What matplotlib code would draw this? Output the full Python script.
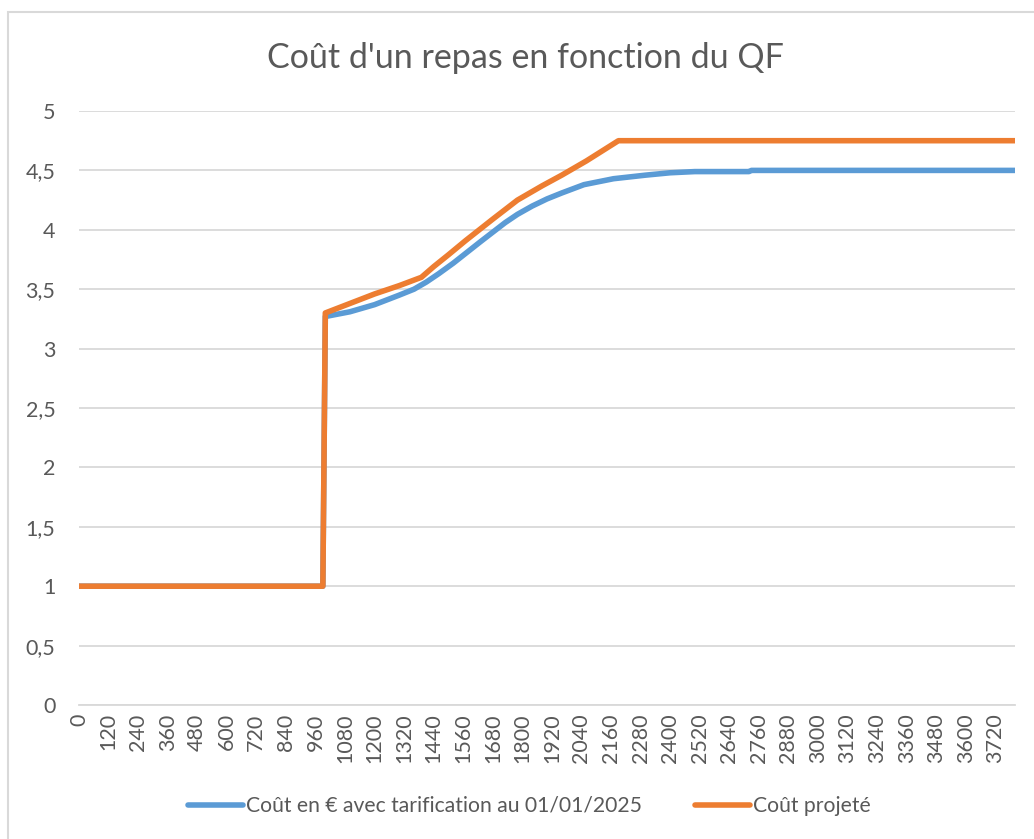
import matplotlib
matplotlib.use("Agg")
import matplotlib.pyplot as plt
from matplotlib.patches import Rectangle

plt.rcParams['font.family'] = ['Lato', 'DejaVu Sans']

# QF breakpoints
qf_actuel = [0, 990, 1000, 1100, 1200, 1300, 1360, 1410, 1460, 1520, 1575, 1630, 1680,
             1730, 1780, 1840, 1900, 1960, 2050, 2170, 2300, 2400, 2500, 2720, 2730, 3800]
cout_actuel = [1.0, 1.0, 3.27, 3.31, 3.37, 3.45, 3.50, 3.56, 3.63, 3.72, 3.81, 3.90, 3.98,
               4.06, 4.13, 4.20, 4.26, 4.31, 4.38, 4.43, 4.46, 4.48, 4.49, 4.49, 4.50, 4.50]

qf_projete = [0, 990, 1000, 1100, 1200, 1300, 1390, 1440, 1500, 1570, 1680, 1780, 1880,
              1960, 2060, 2190, 3800]
cout_projete = [1.0, 1.0, 3.30, 3.38, 3.46, 3.53, 3.60, 3.69, 3.79, 3.91, 4.09, 4.25, 4.37,
                4.46, 4.58, 4.75, 4.75]

xticks = list(range(0, 3721, 120))
yticks = [0, 0.5, 1, 1.5, 2, 2.5, 3, 3.5, 4, 4.5, 5]
ylabels = ["0", "0,5", "1", "1,5", "2", "2,5", "3", "3,5", "4", "4,5", "5"]

txt = '#595959'
grid = '#d9d9d9'

fig = plt.figure(figsize=(10.34, 8.39), dpi=100)
fig.patches.append(Rectangle((8 / 1034, -0.01), 1.02, 1 - 12 / 839 + 0.01,
                             transform=fig.transFigure, fill=False,
                             edgecolor=grid, linewidth=1.5))

ax = fig.add_axes([79 / 1034, 1 - 705 / 839, (1015 - 79) / 1034, (705 - 111) / 839])

ax.plot(qf_actuel, cout_actuel, color='#5b9bd5', linewidth=4,
        solid_capstyle='round', label="Coût en € avec tarification au 01/01/2025")
ax.plot(qf_projete, cout_projete, color='#ed7d31', linewidth=4,
        solid_capstyle='round', label="Coût projeté")

ax.set_xlim(0, 3800)
ax.set_ylim(0, 5)
ax.set_yticks(yticks)
ax.set_yticklabels(ylabels)
ax.set_xticks(xticks)
ax.set_xticklabels([str(v) for v in xticks], rotation=90)
ax.tick_params(axis='both', length=0, colors=txt, labelsize=15.5)
ax.tick_params(axis='y', pad=17)
ax.tick_params(axis='x', pad=6)

ax.grid(axis='y', color=grid, linewidth=1.3)
ax.set_axisbelow(True)
for s in ['top', 'right', 'left']:
    ax.spines[s].set_visible(False)
ax.spines['bottom'].set_color(grid)
ax.spines['bottom'].set_linewidth(1.3)

fig.text(0.508, 1 - 58 / 839, "Coût d'un repas en fonction du QF", ha='center',
         va='center', fontsize=24.5, color=txt)

fig.legend(loc='center', bbox_to_anchor=(0.512, 1 - 806 / 839), ncol=2, frameon=False,
           fontsize=15.2, labelcolor=txt, handlelength=2.6, handletextpad=0.15,
           columnspacing=2.5)

fig.savefig("out.png", dpi=100)
